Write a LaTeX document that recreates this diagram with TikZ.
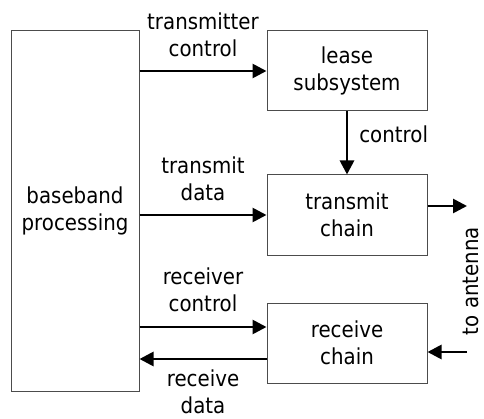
\documentclass[tikz,border=0pt]{standalone}
\usepackage{fontspec}
\setmainfont{DejaVu Sans}[FakeStretch=0.9]
\usetikzlibrary{arrows.meta}

\begin{document}
\begin{tikzpicture}[line join=miter,x=1pt,y=1pt,
  >={Triangle[length=14pt,width=14pt]},
  blk/.style={draw=black!70,line width=1pt,align=center,minimum width=160pt,minimum height=80pt,font=\fontsize{22}{27}\selectfont},
  sig/.style={->,line width=2.7pt},
  lbl/.style={align=center,inner sep=2pt,font=\fontsize{22}{27}\selectfont}]
\useasboundingbox (0,0) rectangle (484,418);
% blocks
\node [blk,minimum width=128pt,minimum height=360pt] (bb) at (75,207) {baseband\\processing};
\node [blk] (lease) at (347,347) {lease\\subsystem};
\node [blk] (tx) at (347,203) {transmit\\chain};
\node [blk] (rx) at (347,75) {receive\\chain};
\coordinate (txout) at (467,212);
\coordinate (rxin) at (467,66);
% signals
\draw [sig] (lease.west -| bb.east) -- node[lbl,above=11pt] (tcl) {transmitter\\control} (lease.west);
\draw [sig] (tx.west -| bb.east) -- node[lbl,above=11pt] (tdat) {transmit\\data} (tx.west);
\draw [sig] ([yshift=16pt]rx.west -| bb.east) -- node[lbl,above=12pt] (rcl) {receiver\\control} ([yshift=16pt]rx.west);
\draw [sig] ([yshift=-16pt]rx.west) -- node[lbl,below=7pt] (rdat) {receive\\data} ([yshift=-16pt]rx.west -| bb.east);
\draw [sig] (lease.south) -- node[lbl,right=9pt,yshift=9pt] (ctl) {control} (tx.north);
\draw [sig] (tx.east |- txout) -- (txout);
\draw [sig] (rxin) -- (rxin -| rx.east);
\node [lbl,rotate=90] (ant) at (471,137) {to antenna};
\end{tikzpicture}
\end{document}
